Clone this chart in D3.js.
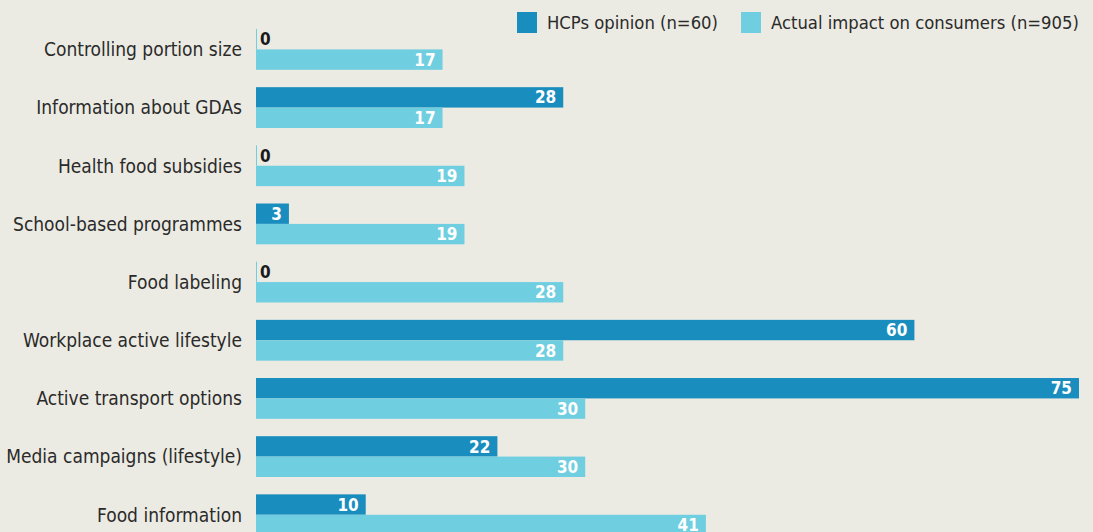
<!DOCTYPE html>
<html>
<head>
<meta charset="utf-8">
<script src="https://cdn.jsdelivr.net/npm/d3@7"></script>
<style>
  body { margin: 0; background: #ecebe3; }
  svg { display: block; }
  text { font-family: "DejaVu Sans Condensed", "Liberation Sans Narrow", sans-serif; }
</style>
</head>
<body>
<div id="chart"></div>
<script>
// categories, top to bottom
const categories = [
    'Controlling portion size',
    'Information about GDAs',
    'Health food subsidies',
    'School-based programmes',
    'Food labeling',
    'Workplace active lifestyle',
    'Active transport options',
    'Media campaigns (lifestyle)',
    'Food information'
];
const hcps = [0, 28, 0, 3, 0, 60, 75, 22, 10];
const consumers = [17, 17, 19, 19, 28, 28, 30, 30, 41];
const seriesNames = ['HCPs opinion (n=60)', 'Actual impact on consumers (n=905)'];
const colors = ['#1a8dbf', '#6fcee0'];

const width = 1093;
const height = 532;

const svg = d3.select('#chart')
    .append('svg')
    .attr('width', width)
    .attr('height', height);

svg.append('rect')
    .attr('width', width)
    .attr('height', height)
    .attr('fill', '#ecebe3');

const x = d3.scaleLinear().domain([0, 75]).range([256, 1079]);

// step ~58.17px, bars ~41px tall per category
const step = 58.17;
const pad = 1 - 40.8 / step;
const y = d3.scaleBand()
    .domain(categories)
    .range([29, 29 + step * (categories.length - pad)])
    .paddingInner(pad)
    .paddingOuter(0);

const sub = d3.scaleBand()
    .domain([0, 1])
    .range([0, y.bandwidth()]);

const rows = svg.selectAll('g.row')
    .data(categories)
    .enter()
    .append('g')
    .attr('class', 'row')
    .attr('transform', d => `translate(0,${y(d)})`);

rows.append('text')
    .attr('x', 242)
    .attr('y', y.bandwidth() / 2)
    .attr('dy', '0.36em')
    .attr('text-anchor', 'end')
    .attr('fill', '#2a2a2a')
    .style('font-size', '19px')
    .text(d => d);

[hcps, consumers].forEach((vals, s) => {
    rows.append('rect')
        .attr('x', x(0))
        .attr('y', sub(s))
        .attr('width', (d, i) => vals[i] === 0 ? 1 : x(vals[i]) - x(0))
        .attr('height', sub.bandwidth())
        .attr('fill', (d, i) => vals[i] === 0 ? colors[1] : colors[s]);

    rows.append('text')
        .attr('x', (d, i) => vals[i] === 0 ? x(0) + 4 : x(vals[i]) - 7)
        .attr('y', sub(s) + sub.bandwidth() / 2)
        .attr('dy', '0.36em')
        .attr('text-anchor', (d, i) => vals[i] === 0 ? 'start' : 'end')
        .attr('fill', (d, i) => vals[i] === 0 ? '#1a1a1a' : '#ffffff')
        .style('font-size', '17px')
        .style('font-weight', 'bold')
        .text((d, i) => vals[i]);
});

// legend
const legendX = [517, 741];
const legend = svg.selectAll('g.legend')
    .data(seriesNames)
    .enter()
    .append('g')
    .attr('class', 'legend')
    .attr('transform', (d, i) => `translate(${legendX[i]},12)`);

legend.append('rect')
    .attr('width', 20)
    .attr('height', 21)
    .attr('fill', (d, i) => colors[i]);

legend.append('text')
    .attr('x', 30)
    .attr('y', 10.5)
    .attr('dy', '0.36em')
    .attr('fill', '#2a2a2a')
    .style('font-size', '18.3px')
    .text(d => d);
</script>
</body>
</html>
